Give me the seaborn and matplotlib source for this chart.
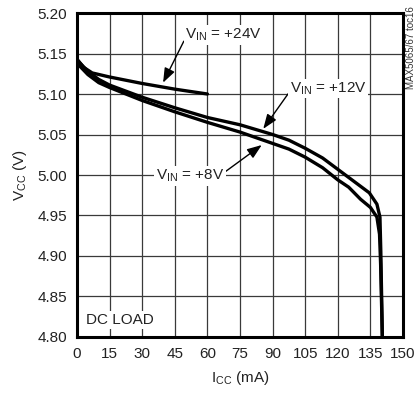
import matplotlib
matplotlib.use("Agg")
import matplotlib.pyplot as plt
from matplotlib import font_manager
import seaborn as sns
import pandas as pd
import numpy as np

# ---- data ----
i_24 = [0, 3, 7, 15, 30, 45, 60]
v_24 = [5.143, 5.133, 5.126, 5.121, 5.113, 5.106, 5.100]

i_12 = [0, 5, 10, 15, 30, 45, 60, 75, 90, 97.5, 105, 113, 120, 125, 130, 134.5, 138, 139.4, 139.8, 140.5]
v_12 = [5.142, 5.128, 5.118, 5.111, 5.096, 5.083, 5.071, 5.062, 5.050, 5.043, 5.033, 5.021, 5.007,
        4.997, 4.987, 4.978, 4.964, 4.948, 4.905, 4.800]

i_8 = [0, 5, 10, 15, 30, 45, 60, 75, 90, 97.5, 105, 113, 120, 125, 130.5, 135, 138, 139.2, 139.7, 140.5]
v_8 = [5.138, 5.124, 5.114, 5.108, 5.092, 5.078, 5.065, 5.053, 5.039, 5.032, 5.022, 5.009, 4.994,
       4.985, 4.970, 4.960, 4.948, 4.927, 4.890, 4.800]

x_ticks = [0, 15, 30, 45, 60, 75, 90, 105, 120, 135, 150]
y_ticks = [4.80, 4.85, 4.90, 4.95, 5.00, 5.05, 5.10, 5.15, 5.20]
series_names = ["+24V", "+12V", "+8V"]

df = pd.concat([
    pd.DataFrame({"I": i_24, "V": v_24, "VIN": series_names[0]}),
    pd.DataFrame({"I": i_12, "V": v_12, "VIN": series_names[1]}),
    pd.DataFrame({"I": i_8, "V": v_8, "VIN": series_names[2]}),
])

sns.set_style("white")
avail = {f.name for f in font_manager.fontManager.ttflist}
main_font = "Liberation Sans Narrow" if "Liberation Sans Narrow" in avail else "Liberation Sans"
fs = 12 if main_font.endswith("Narrow") else 11
plt.rcParams["font.family"] = [main_font, "DejaVu Sans"]
plt.rcParams["mathtext.fontset"] = "custom"
plt.rcParams["mathtext.rm"] = main_font
plt.rcParams["mathtext.it"] = main_font
plt.rcParams["mathtext.bf"] = main_font

fig = plt.figure(figsize=(4.17, 3.98), dpi=100)
ax = fig.add_axes([0.1847, 0.1533, 0.7817, 0.814])

sns.lineplot(data=df, x="I", y="V", hue="VIN", palette=["black"] * 3, sort=False,
             estimator=None, linewidth=2.4, legend=False, ax=ax)

ax.set_xlim(0, 150)
ax.set_ylim(4.80, 5.20)
ax.set_xticks(x_ticks)
ax.set_yticks(y_ticks)
ax.set_xticklabels([str(t) for t in x_ticks])
ax.set_yticklabels([f"{t:.2f}" for t in y_ticks])
ax.tick_params(length=0, labelsize=fs, pad=7, colors="#222222")
ax.grid(True, color="#3a3a3a", linewidth=0.9)
ax.set_axisbelow(True)
for s in ax.spines.values():
    s.set_linewidth(2.2)
    s.set_color("black")
    s.set_visible(True)

ax.set_xlabel(r"I$_{\mathrm{CC}}$ (mA)", fontsize=fs, color="#222222", labelpad=6)
ax.set_ylabel(r"V$_{\mathrm{CC}}$ (V)", fontsize=fs, color="#222222", labelpad=6)

bbox = dict(boxstyle="square,pad=0.1", fc="white", ec="none")
arrow = dict(arrowstyle="-|>,head_length=0.8,head_width=0.3", color="black", lw=1.0,
             shrinkA=0, shrinkB=0)

ax.annotate(r"V$_{\mathrm{IN}}$ = +24V", xy=(39.6, 5.114), xytext=(67.5, 5.173),
            ha="center", va="center", fontsize=fs, color="#222222", bbox=bbox,
            arrowprops=dict(arrow, relpos=(0.0, 0.3)))
ax.annotate(r"V$_{\mathrm{IN}}$ = +12V", xy=(85.7, 5.057), xytext=(115.5, 5.107),
            ha="center", va="center", fontsize=fs, color="#222222", bbox=bbox,
            arrowprops=dict(arrow, relpos=(0.0, 0.3)))
ax.annotate(r"V$_{\mathrm{IN}}$ = +8V", xy=(85.0, 5.037), xytext=(52.0, 4.999),
            ha="center", va="center", fontsize=fs, color="#222222", bbox=bbox,
            arrowprops=dict(arrow, relpos=(1.0, 0.7)))

ax.text(4.2, 4.821, "DC LOAD", ha="left", va="center", fontsize=fs, color="#222222",
        bbox=bbox)

fig.text(0.985, 0.985, "MAX5065/67 toc16", rotation=90, ha="center", va="top",
         fontsize=7, color="#333333")

fig.savefig("out.png", dpi=100)
